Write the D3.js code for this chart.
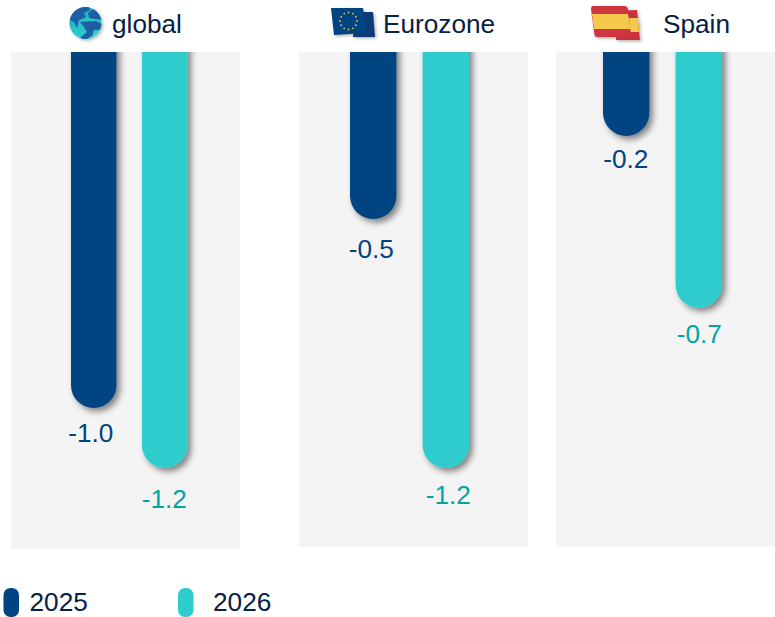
<!DOCTYPE html>
<html><head><meta charset="utf-8">
<script src="https://cdn.jsdelivr.net/npm/d3@7"></script>
<style>html,body{margin:0;padding:0;background:#fff}svg{display:block}text{font-family:"Liberation Sans",Arial,sans-serif}</style>
</head><body><div id="c"></div>
<script>
const regions = ["global", "Eurozone", "Spain"];
const years = ["2025", "2026"];
const values2025 = [-1.027, -0.482, -0.242];
const values2026 = [-1.2, -1.2, -0.738];

const W = 775, H = 617, TOP = 52, FS = 26.2;
const colors = {"2025": "#004481", "2026": "#2DCCCD"};
const labelColors = {"2025": "#004481", "2026": "#02A5A5"};
const navy = "#072146";
const layout = [
  {px0: 11, px1: 240, py1: 549, b0: 71, b1: 187.5, tx: 112, nudge: [34, 40], shift: [-3, -0.5]},
  {px0: 299, px1: 528, py1: 547, b0: 350, b1: 469, tx: 383, nudge: [39, 36], shift: [-2, 2.5]},
  {px0: 556, px1: 775, py1: 547, b0: 603, b1: 722, tx: 663, nudge: [32, 35], shift: [-0.5, 0.5]}
];

const svg = d3.select("#c").append("svg").attr("width", W).attr("height", H).attr("viewBox", `0 0 ${W} ${H}`);
const defs = svg.append("defs");
const f = defs.append("filter").attr("id", "sh").attr("x", "-40%").attr("y", "-10%").attr("width", "180%").attr("height", "120%");
f.append("feDropShadow").attr("dx", 3.5).attr("dy", 3.5).attr("stdDeviation", 3.4).attr("flood-color", "#000").attr("flood-opacity", 0.48);
const fi = defs.append("filter").attr("id", "shi").attr("x", "-30%").attr("y", "-30%").attr("width", "160%").attr("height", "160%");
fi.append("feDropShadow").attr("dx", 1.5).attr("dy", 1.5).attr("stdDeviation", 1.4).attr("flood-color", "#000").attr("flood-opacity", 0.3);
const g0 = defs.append("linearGradient").attr("id", "globe").attr("x1", "0").attr("y1", "0").attr("x2", "0.6").attr("y2", "1");
g0.append("stop").attr("offset", "0%").attr("stop-color", "#1F8FB0");
g0.append("stop").attr("offset", "55%").attr("stop-color", "#2AC2C6");
g0.append("stop").attr("offset", "100%").attr("stop-color", "#2DCCCD");
defs.append("clipPath").attr("id", "globeClip").append("circle").attr("cx", 85.5).attr("cy", 23).attr("r", 16);
const blur = defs.append("filter").attr("id", "soft");
blur.append("feGaussianBlur").attr("stdDeviation", 0.5);

const y = d3.scaleLinear().domain([0, -1.2]).range([TOP, 468]);

regions.forEach((name, i) => {
  const L = layout[i];
  const x = d3.scaleBand().domain(years).range([L.b0, L.b1]).paddingInner(0.36);
  const cid = "clip" + i;
  defs.append("clipPath").attr("id", cid).append("rect").attr("x", L.px0).attr("y", TOP).attr("width", L.px1 - L.px0).attr("height", L.py1 - TOP);
  svg.append("rect").attr("x", L.px0).attr("y", TOP).attr("width", L.px1 - L.px0).attr("height", L.py1 - TOP).attr("fill", "#F4F4F4");
  const rows = years.map((yr, j) => ({yr, j, v: (j === 0 ? values2025 : values2026)[i]}));
  const g = svg.append("g").attr("clip-path", `url(#${cid})`);
  g.selectAll("rect").data(rows).join("rect")
    .attr("x", d => x(d.yr)).attr("width", x.bandwidth())
    .attr("y", TOP - 40).attr("height", d => y(d.v) - TOP + 40)
    .attr("rx", x.bandwidth() / 2)
    .attr("fill", d => colors[d.yr]).attr("filter", "url(#sh)");
  svg.selectAll(null).data(rows).join("text")
    .attr("x", d => x(d.yr) + x.bandwidth() / 2 + L.shift[d.j])
    .attr("y", d => y(d.v) + L.nudge[d.j])
    .attr("text-anchor", "middle").attr("font-size", FS)
    .attr("fill", d => labelColors[d.yr])
    .text(d => d.v.toFixed(1));
  svg.append("text").attr("x", L.tx).attr("y", 33).attr("font-size", FS).attr("fill", navy).text(name);
});

// legend
const legendX = d3.scaleOrdinal().domain(years).range([3.5, 178]);
const legendTextX = d3.scaleOrdinal().domain(years).range([29.5, 213]);
svg.selectAll(null).data(years).join("rect")
  .attr("x", d => legendX(d)).attr("y", 588).attr("width", 15.5).attr("height", 29).attr("rx", 7)
  .attr("fill", d => colors[d]);
svg.selectAll(null).data(years).join("text")
  .attr("x", d => legendTextX(d)).attr("y", 611.4).attr("font-size", FS).attr("fill", navy).text(d => d);

// globe icon
const gi = svg.append("g").attr("filter", "url(#shi)");
gi.append("circle").attr("cx", 85.5).attr("cy", 23).attr("r", 16).attr("fill", "url(#globe)");
const gc = gi.append("g").attr("clip-path", "url(#globeClip)").attr("fill", "#1A5FA6");
gc.append("path").attr("filter", "url(#soft)").attr("d", "M70 8 L88 5 L90 10 L84 13 L86 17 L79 20 L77 28 L74 22 L70 20 Z");
gc.append("path").attr("filter", "url(#soft)").attr("d", "M88 13 L95 8 L102 14 L102 20 L95 19 L89 18 Z");
gc.append("path").attr("filter", "url(#soft)").attr("d", "M80 22 L96 21 L102 24 L100 30 L94 30 L92 36 L85 40 L80 38 L87 32 L84 27 Z");

// EU flag icon
const eu = svg.append("g").attr("filter", "url(#shi)");
eu.append("path").attr("d", "M355 12 L373 12 L375 37 L353 37 Z").attr("fill", "#0B3A78");
eu.append("path").attr("d", "M331 8 L363 8 L366 33 L334 35 Z").attr("fill", "#004481");
d3.range(12).forEach(k => {
  const a = k * Math.PI / 6;
  eu.append("circle").attr("cx", 348.5 + 8.5 * Math.cos(a)).attr("cy", 21 + 8.5 * Math.sin(a)).attr("r", 0.9).attr("fill", "#E3C04A");
});

// Spain flag icon
const es = svg.append("g").attr("filter", "url(#shi)");
es.append("path").attr("d", "M616 11 L637 10 L640 40 L616 40 Z").attr("fill", "#C9303C");
es.append("path").attr("d", "M628 18 L638 18 L639 32 L630 32 Z").attr("fill", "#F5C94B");
es.append("path").attr("d", "M593 6 L625 6 Q627 6 628 9 L631 35 Q631 37 628 37 L597 37 Q595 37 594.5 35 L591 9 Q591 6 593 6 Z").attr("fill", "#D0353F");
es.append("path").attr("d", "M592 14 L628 14 L630.5 29 L594 29 Z").attr("fill", "#F5C94B");
</script></body></html>
